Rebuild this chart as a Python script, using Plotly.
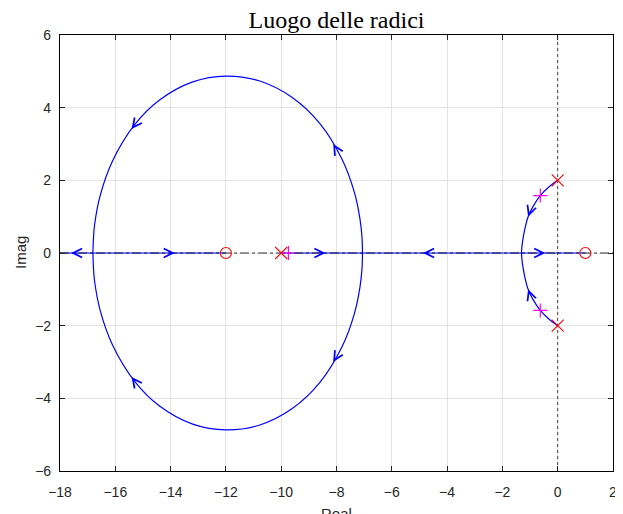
import plotly.graph_objects as go

# ---------------- data ----------------
x_ticks = [-18, -16, -14, -12, -10, -8, -6, -4, -2, 0, 2]
y_ticks = [-6, -4, -2, 0, 2, 4, 6]

# open-loop poles / zeros
pole_x = [0, 0, -10]
pole_y = [2, -2, 0]
zero_x = [-12, 1]
zero_y = [0, 0]

# closed-loop poles for the chosen gain (magenta +)
clp_x = [-0.63, -0.63, -9.74]
clp_y = [1.58, -1.58, 0]

# real-axis parts of the locus
real_left_x = [-18, -16.81, -12]
real_left_y = [0, 0, 0]
real_right_x = [-10, -7.06, -1.31, 1]
real_right_y = [0, 0, 0, 0]

# circle-like branches around the zero at -12
circ_up_x = [-7.06, -7.08, -7.15, -7.35, -7.8, -8.6, -9.6, -10.8, -12.0,
             -13.2, -14.4, -15.3, -16.1, -16.55, -16.75, -16.79, -16.81]
circ_up_y = [0, 0.45, 0.93, 1.66, 2.58, 3.56, 4.28, 4.74, 4.87,
             4.71, 4.21, 3.53, 2.53, 1.57, 0.77, 0.4, 0]
circ_dn_x = [-7.06, -7.08, -7.15, -7.35, -7.8, -8.6, -9.6, -10.8, -12.0,
             -13.2, -14.4, -15.3, -16.1, -16.55, -16.75, -16.79, -16.81]
circ_dn_y = [0, -0.45, -0.93, -1.66, -2.58, -3.56, -4.28, -4.74, -4.87,
             -4.71, -4.21, -3.53, -2.53, -1.57, -0.77, -0.4, 0]

# branches leaving the complex poles +-2j
cplx_up_x = [0, -0.3, -0.63, -0.9, -1.07, -1.2, -1.27, -1.3, -1.31]
cplx_up_y = [2, 1.83, 1.58, 1.27, 1.0, 0.62, 0.32, 0.12, 0]
cplx_dn_x = [0, -0.3, -0.63, -0.9, -1.07, -1.2, -1.27, -1.3, -1.31]
cplx_dn_y = [-2, -1.83, -1.58, -1.27, -1.0, -0.62, -0.32, -0.12, 0]

# direction arrows: tip position and direction (data units)
arrow_x = [-8.4, -4.87, -0.45, -13.85, -17.6, -8.12, -15.41, -8.12, -15.41, -1.07, -1.07]
arrow_y = [0, 0, 0, 0, 0, 3.0, 3.41, -3.0, -3.41, 1.0, -1.0]
arrow_dx = [1, -1, 1, 1, -1, -3.0, -3.41, -3.0, -3.41, -0.3, -0.3]
arrow_dy = [0, 0, 0, 0, 0, 3.815, -3.475, -3.815, 3.475, -0.65, 0.65]

# ---------------- styling ----------------
BLUE = "#0000ff"
RED = "#ff0000"
MAG = "#ff00ff"
GRID = "#e3e3e3"
TXT = "#262626"

W, H = 623, 514
OFF = 8  # page body margin of the browser
ML, MR, MT, MB = 60 - OFF, 10 + OFF, 35 - OFF, 43 + OFF
PX_X = (W - ML - MR) / (x_ticks[-1] - x_ticks[0])
PX_Y = (H - MT - MB) / (y_ticks[-1] - y_ticks[0])

fig = go.Figure()

def line(x, y, color=BLUE, width=1.2, dash="solid", shape="linear"):
    fig.add_trace(go.Scatter(x=x, y=y, mode="lines",
                             line=dict(color=color, width=width, dash=dash, shape=shape),
                             hoverinfo="skip"))

line(real_left_x, real_left_y)
line(real_right_x, real_right_y)
line(circ_up_x, circ_up_y, shape="spline")
line(circ_dn_x, circ_dn_y, shape="spline")
line(cplx_up_x, cplx_up_y, shape="spline")
line(cplx_dn_x, cplx_dn_y, shape="spline")

# dotted reference axes
line([x_ticks[0], x_ticks[-1]], [0, 0], color="rgba(0,0,0,0.8)", width=1, dash="dashdot")
line([0, 0], [y_ticks[0], y_ticks[-1]], color="rgba(0,0,0,0.7)", width=1, dash="dot")

# poles, zeros, closed-loop poles
fig.add_trace(go.Scatter(x=pole_x, y=pole_y, mode="markers",
                         marker=dict(symbol="x-thin", size=12, line=dict(color=RED, width=1.1)),
                         hoverinfo="skip"))
fig.add_trace(go.Scatter(x=zero_x, y=zero_y, mode="markers",
                         marker=dict(symbol="circle-open", size=11, color=RED, line=dict(color=RED, width=1.1)),
                         hoverinfo="skip"))
fig.add_trace(go.Scatter(x=clp_x, y=clp_y, mode="markers",
                         marker=dict(symbol="cross-thin", size=10, line=dict(color=MAG, width=1.2)),
                         hoverinfo="skip"))

# arrows
anns = []
L = 6.0
for x, y, dx, dy in zip(arrow_x, arrow_y, arrow_dx, arrow_dy):
    ux, uy = dx * PX_X, dy * PX_Y
    n = (ux ** 2 + uy ** 2) ** 0.5
    ux, uy = ux / n, uy / n
    anns.append(dict(x=x, y=y, xref="x", yref="y", text="", showarrow=True,
                     ax=-ux * L, ay=uy * L, arrowhead=5, arrowsize=2.1, arrowwidth=0.85,
                     arrowcolor=BLUE, standoff=0))

anns.append(dict(text="Real", x=0.5, y=-(503 - OFF - (H - MB)) / (H - MT - MB), xref="paper", yref="paper",
                 xanchor="center", yanchor="top", showarrow=False,
                 font=dict(family="Liberation Sans, Arial, sans-serif", size=15, color=TXT)))
anns.append(dict(text="Imag", x=-(ML - (20 - OFF)) / (W - ML - MR), y=0.5, xref="paper", yref="paper",
                 xanchor="center", yanchor="middle", textangle=-90, showarrow=False,
                 font=dict(family="Liberation Sans, Arial, sans-serif", size=15, color=TXT)))

fig.update_layout(
    width=W, height=H,
    margin=dict(l=ML, r=MR, t=MT, b=MB, autoexpand=False),
    plot_bgcolor="white", paper_bgcolor="white",
    showlegend=False,
    title=dict(text="Luogo delle radici", x=(ML + (W - ML - MR) / 2) / W, xanchor="center",
               y=1 - (20 - OFF) / H, yanchor="middle", yref="container",
               font=dict(family="Liberation Serif, Times New Roman, serif", size=24, color="black")),
    annotations=anns,
    font=dict(family="Liberation Sans, Arial, sans-serif", size=14, color=TXT),
)

axis_common = dict(showgrid=True, gridcolor=GRID, gridwidth=1, zeroline=False,
                   showline=True, linecolor="black", linewidth=1.2, mirror="ticks",
                   ticks="inside", ticklen=5, tickcolor="#262626", tickwidth=1, automargin=False,
                   tickfont=dict(size=14, color=TXT, family="Liberation Sans, Arial, sans-serif"))

fig.update_xaxes(range=[x_ticks[0], x_ticks[-1]], tickvals=x_ticks, ticklabelstandoff=8, **axis_common)
fig.update_yaxes(range=[y_ticks[0], y_ticks[-1]], tickvals=y_ticks, ticklabelstandoff=5, **axis_common)

fig.write_html("out.html")
